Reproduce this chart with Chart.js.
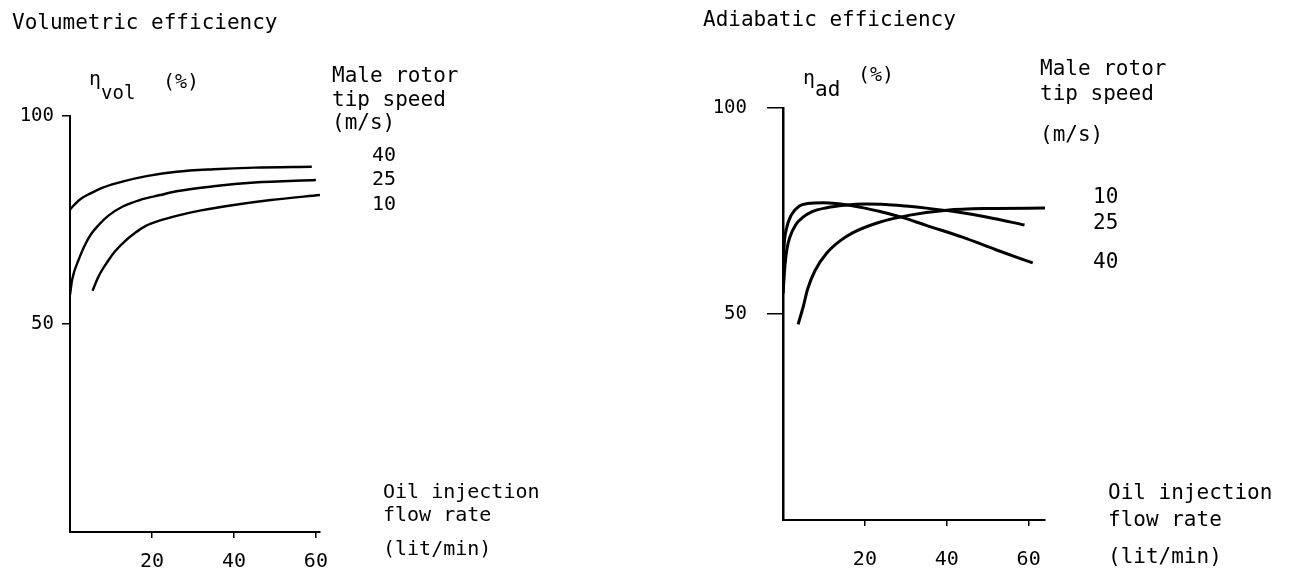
<!DOCTYPE html>
<html>
<head>
<meta charset="utf-8">
<script src="https://cdn.jsdelivr.net/npm/chart.js@4/dist/chart.umd.min.js"></script>
<style>
    body { margin: 0; background: #fff; }
    #wrap { position: relative; width: 1290px; height: 576px; overflow: hidden; font-family: 'DejaVu Sans Mono', monospace; color: #000; }
    canvas { position: absolute; top: 0; }
    .t { position: absolute; white-space: pre; line-height: 1; font-size: 20px; }
</style>
</head>
<body>
<div id="wrap">
    <canvas id="volChart" width="645" height="576" style="left:0"></canvas>
    <canvas id="adChart" width="645" height="576" style="left:645px"></canvas>

    <!-- Volumetric efficiency labels -->
    <div class="t" style="left:12px; top:12px; font-size:21px;">Volumetric efficiency</div>
    <div class="t" style="left:89px; top:68px; font-size:20px;">η</div>
    <div class="t" style="left:101px; top:83px; font-size:19px;">vol</div>
    <div class="t" style="left:163px; top:71px; font-size:20px;">(%)</div>
    <div class="t" style="left:332px; top:65px; font-size:21px;">Male rotor</div>
    <div class="t" style="left:332px; top:89px; font-size:21px;">tip speed</div>
    <div class="t" style="left:332px; top:112px; font-size:21px;">(m/s)</div>
    <div class="t" style="left:372px; top:144px;">40</div>
    <div class="t" style="left:372px; top:168px;">25</div>
    <div class="t" style="left:372px; top:193px;">10</div>
    <div class="t" style="left:383px; top:481px;">Oil injection</div>
    <div class="t" style="left:383px; top:504px;">flow rate</div>
    <div class="t" style="left:383px; top:538px;">(lit/min)</div>

    <!-- Adiabatic efficiency labels -->
    <div class="t" style="left:703px; top:9px; font-size:21px;">Adiabatic efficiency</div>
    <div class="t" style="left:803px; top:67px; font-size:20px;">η</div>
    <div class="t" style="left:815px; top:79px; font-size:21px;">ad</div>
    <div class="t" style="left:858px; top:64px; font-size:20px;">(%)</div>
    <div class="t" style="left:1040px; top:58px; font-size:21px;">Male rotor</div>
    <div class="t" style="left:1040px; top:83px; font-size:21px;">tip speed</div>
    <div class="t" style="left:1040px; top:124px; font-size:21px;">(m/s)</div>
    <div class="t" style="left:1093px; top:186px; font-size:21px;">10</div>
    <div class="t" style="left:1093px; top:212px; font-size:21px;">25</div>
    <div class="t" style="left:1093px; top:251px; font-size:21px;">40</div>
    <div class="t" style="left:1108px; top:482px; font-size:21px;">Oil injection</div>
    <div class="t" style="left:1108px; top:509px; font-size:21px;">flow rate</div>
    <div class="t" style="left:1108px; top:546px; font-size:21px;">(lit/min)</div>
</div>
<script>
// tick labels
const xTicks = [20, 40, 60];
const yTicks = [50, 100];

// Volumetric efficiency (%) vs oil injection flow rate (lit/min)
const volFlow40 = [0, 1, 2.5, 5, 8, 13, 19, 26, 35, 45, 59];
const volEff40 = [77.5, 78.6, 80, 81.4, 82.8, 84.3, 85.6, 86.6, 87.2, 87.6, 87.8];
const volFlow25 = [0, 0.5, 1, 2, 3.5, 5, 7, 9.3, 13, 17, 22, 26, 35, 45, 60];
const volEff25 = [57, 60.5, 62.5, 65.2, 68.7, 71.4, 73.8, 76, 78.3, 79.8, 81, 81.9, 83.1, 84, 84.6];
const volFlow10 = [5.5, 7, 9.3, 11, 13.5, 16, 18.5, 22, 26, 32, 40, 49, 61];
const volEff10 = [58, 61.5, 65.2, 67.5, 70, 72, 73.6, 74.9, 76, 77.3, 78.6, 79.8, 81];

// Adiabatic efficiency (%) vs oil injection flow rate (lit/min)
const adFlow10 = [3.7, 5, 6, 7.8, 10.7, 14, 17, 23, 31, 40, 50, 64];
const adEff10 = [47.5, 52, 56, 60.5, 64.8, 67.8, 69.7, 72.1, 74, 75.2, 75.6, 75.7];
const adFlow25 = [0, 0.5, 1, 1.7, 3, 4.9, 7, 10.7, 15, 20, 25, 30, 35, 43, 50, 59];
const adEff25 = [55, 62, 66, 68.7, 71.5, 73.5, 74.8, 75.8, 76.4, 76.7, 76.6, 76.2, 75.7, 74.7, 73.5, 71.6];
const adFlow40 = [0, 0.1, 0.3, 0.8, 2, 4, 6, 10, 15, 20, 24, 29, 35, 44, 52, 61];
const adEff40 = [55, 62, 67, 70.5, 74, 76.2, 76.8, 77, 76.6, 75.7, 74.8, 73.5, 71.5, 68.6, 65.6, 62.4];

Chart.defaults.font.family = "'DejaVu Sans Mono', monospace";
Chart.defaults.color = '#000';

function pts(xs, ys) {
    return xs.map((x, i) => ({ x: x, y: ys[i] }));
}

function series(label, xs, ys, width) {
    return {
        label: label,
        data: pts(xs, ys),
        borderColor: '#000',
        borderWidth: width,
        pointRadius: 0,
        fill: false,
        cubicInterpolationMode: 'monotone'
    };
}

// Chart helper: box = where the plot area sits inside the canvas
function makeChart(id, datasets, box) {
    return new Chart(document.getElementById(id), {
        type: 'line',
        data: { datasets: datasets },
        options: {
            responsive: false,
            animation: false,
            devicePixelRatio: 1,
            layout: { padding: { left: 0, top: box.top, right: box.right, bottom: 0 } },
            plugins: { legend: { display: false }, tooltip: { enabled: false } },
            scales: {
                x: {
                    type: 'linear',
                    min: 0,
                    max: box.xMax,
                    afterBuildTicks: s => { s.ticks = xTicks.map(v => ({ value: v })); },
                    afterFit: s => { s.height = box.xHeight; },
                    ticks: { font: { size: 20 }, padding: box.xPad, maxRotation: 0 },
                    grid: { drawOnChartArea: false, tickLength: 6, color: '#000', lineWidth: 1.5 },
                    border: { color: '#000', width: 2 }
                },
                y: {
                    type: 'linear',
                    min: 0,
                    max: 100,
                    afterBuildTicks: s => { s.ticks = yTicks.map(v => ({ value: v })); },
                    afterFit: s => { s.width = box.yWidth; },
                    ticks: { font: { size: 19 }, padding: box.yPad },
                    grid: { drawOnChartArea: false, tickLength: box.yTick, color: '#000', lineWidth: 1.5 },
                    border: { color: '#000', width: box.axisWidth }
                }
            }
        }
    });
}

makeChart('volChart', [
    series('40', volFlow40, volEff40, 2.4),
    series('25', volFlow25, volEff25, 2.4),
    series('10', volFlow10, volEff10, 2.4)
], { top: 116, right: 325, xMax: 61, xHeight: 44, xPad: 12, yWidth: 70, yPad: 8, yTick: 8, axisWidth: 2 });

makeChart('adChart', [
    series('10', adFlow10, adEff10, 3),
    series('25', adFlow25, adEff25, 3),
    series('40', adFlow40, adEff40, 3)
], { top: 108, right: 245, xMax: 64, xHeight: 56, xPad: 22, yWidth: 138, yPad: 20, yTick: 16, axisWidth: 2.5 });
</script>
</body>
</html>
